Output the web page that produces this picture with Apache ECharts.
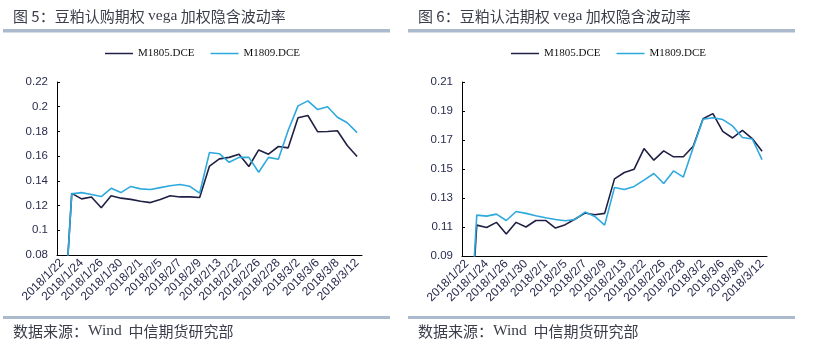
<!DOCTYPE html>
<html>
<head>
<meta charset="utf-8">
<script src="https://cdn.jsdelivr.net/npm/echarts@6/dist/echarts.min.js"></script>
<style>
  html, body { margin: 0; padding: 0; background: #ffffff; }
  #chart { width: 819px; height: 344px; }
</style>
</head>
<body>
<div id="chart"></div>
<script>
// Trading days shown on the category axis
const dates = [
  '2018/1/22', '2018/1/23', '2018/1/24', '2018/1/25', '2018/1/26', '2018/1/29', '2018/1/30', '2018/1/31',
  '2018/2/1', '2018/2/2', '2018/2/5', '2018/2/6', '2018/2/7', '2018/2/8', '2018/2/9', '2018/2/12',
  '2018/2/13', '2018/2/14', '2018/2/22', '2018/2/23', '2018/2/26', '2018/2/27', '2018/2/28', '2018/3/1',
  '2018/3/2', '2018/3/5', '2018/3/6', '2018/3/7', '2018/3/8', '2018/3/9', '2018/3/12'
];

// Call options: vega-weighted implied volatility
const callM1805 = [0, 0.1299, 0.1254, 0.127, 0.1183, 0.128, 0.126, 0.125, 0.1235, 0.1224, 0.125, 0.128, 0.127, 0.127, 0.1265,
  0.152, 0.1578, 0.159, 0.1616, 0.1516, 0.165, 0.1616, 0.1678, 0.1667, 0.191, 0.1929, 0.1797, 0.180, 0.1805, 0.1686, 0.1597];
const callM1809 = [0, 0.1295, 0.1305, 0.129, 0.1273, 0.134, 0.1305, 0.1355, 0.1335, 0.133, 0.1345, 0.136, 0.137, 0.1356, 0.130,
  0.163, 0.162, 0.155, 0.159, 0.159, 0.147, 0.159, 0.1575, 0.181, 0.2007, 0.2047, 0.1977, 0.200, 0.1915, 0.187, 0.179];

// Put options: vega-weighted implied volatility
const putM1805 = [0, 0.1113, 0.1097, 0.1132, 0.1051, 0.1132, 0.110, 0.1145, 0.1145, 0.1093, 0.1116, 0.1155, 0.1196, 0.1184, 0.1194,
  0.1432, 0.1476, 0.1499, 0.1641, 0.1561, 0.1625, 0.1584, 0.1584, 0.1657, 0.1847, 0.1882, 0.176, 0.1714, 0.1767, 0.171, 0.1623];
const putM1809 = [0, 0.1182, 0.1175, 0.1189, 0.1145, 0.1207, 0.1194, 0.1178, 0.1164, 0.1152, 0.1143, 0.1152, 0.1203, 0.1173, 0.1113,
  0.1373, 0.1359, 0.138, 0.1423, 0.1469, 0.140, 0.1487, 0.1444, 0.1648, 0.1843, 0.1854, 0.1841, 0.1797, 0.1717, 0.1707, 0.1565];

// Y-axis tick values for each panel
const callTicks = [0.08, 0.10, 0.12, 0.14, 0.16, 0.18, 0.20, 0.22];
const putTicks = [0.09, 0.11, 0.13, 0.15, 0.17, 0.19, 0.21];

const seriesNames = ['M1805.DCE', 'M1809.DCE'];
const panelTitles = ['图 5：豆粕认购期权 ', '图 6：豆粕认沽期权 '];
const sourceText = '数据来源：';

const DARK = '#1f2044';
const BLUE = '#2ea9de';
const LABEL = '#2a2d4f';
const BAR = '#abbacd';

const chart = echarts.init(document.getElementById('chart'), null, { renderer: 'canvas' });

function xAxis(gridIndex) {
  return {
    type: 'category',
    gridIndex,
    data: dates,
    boundaryGap: true,
    axisLine: { lineStyle: { color: '#000', width: 1 } },
    axisTick: { inside: true, length: 3, interval: 0, lineStyle: { color: '#000' } },
    axisLabel: {
      interval: 1, rotate: 45, margin: 6,
      fontFamily: 'Liberation Sans, Arial, sans-serif', fontSize: 12, color: LABEL
    },
    splitLine: { show: false }
  };
}

function yAxis(gridIndex, ticks) {
  return {
    type: 'value',
    gridIndex,
    min: ticks[0],
    max: ticks[ticks.length - 1],
    axisLine: { show: true, lineStyle: { color: '#000', width: 1 } },
    axisTick: { show: true, inside: true, length: 3, customValues: ticks, lineStyle: { color: '#000' } },
    axisLabel: {
      customValues: ticks, margin: 9,
      fontFamily: 'Liberation Sans, Arial, sans-serif', fontSize: 11.5, color: LABEL,
      formatter: v => String(parseFloat(v.toFixed(2)))
    },
    splitLine: { show: false }
  };
}

function line(name, data, color, idx) {
  return {
    name, type: 'line', data,
    xAxisIndex: idx, yAxisIndex: idx,
    symbol: 'none', clip: true,
    lineStyle: { color, width: 1.6 },
    itemStyle: { color },
    animation: false
  };
}

function legend(left) {
  return {
    data: seriesNames,
    left, top: 48, padding: 0,
    icon: 'rect', itemWidth: 28, itemHeight: 1.5, itemGap: 16,
    textStyle: { fontFamily: 'Liberation Serif, Times New Roman, serif', fontSize: 11, color: '#111' }
  };
}

function panelGraphics(x0, title) {
  return [
    {
      type: 'text', left: x0 + 13, top: 8,
      style: {
        text: '{c|' + title + '}{s|vega}{c| 加权隐含波动率}',
        rich: {
          c: { fontFamily: 'Noto Sans CJK SC, sans-serif', fontSize: 15, fill: '#3b3d4a' },
          s: { fontFamily: 'Liberation Serif, serif', fontSize: 15.5, fill: '#3b3d4a' }
        }
      }
    },
    { type: 'rect', shape: { x: x0 + 3, y: 29, width: 387, height: 3.5 }, style: { fill: BAR } },
    { type: 'rect', shape: { x: x0 + 3, y: 316, width: 387, height: 3 }, style: { fill: BAR } },
    {
      type: 'text', left: x0 + 13, top: 323,
      style: {
        text: '{c|' + sourceText + '}{s|Wind}{c|  中信期货研究部}',
        rich: {
          c: { fontFamily: 'Noto Sans CJK SC, sans-serif', fontSize: 15, fill: '#3b3d4a' },
          s: { fontFamily: 'Liberation Serif, serif', fontSize: 15.5, fill: '#3b3d4a' }
        }
      }
    }
  ];
}

chart.setOption({
  animation: false,
  backgroundColor: '#ffffff',
  grid: [
    { left: 57, top: 82, width: 305, height: 173 },
    { left: 462, top: 82, width: 305, height: 174 }
  ],
  xAxis: [xAxis(0), xAxis(1)],
  yAxis: [yAxis(0, callTicks), yAxis(1, putTicks)],
  legend: [legend(105), legend(511)],
  series: [
    line(seriesNames[0], callM1805, DARK, 0),
    line(seriesNames[1], callM1809, BLUE, 0),
    line(seriesNames[0], putM1805, DARK, 1),
    line(seriesNames[1], putM1809, BLUE, 1)
  ],
  graphic: [...panelGraphics(0, panelTitles[0]), ...panelGraphics(405, panelTitles[1])]
});
</script>
</body>
</html>
